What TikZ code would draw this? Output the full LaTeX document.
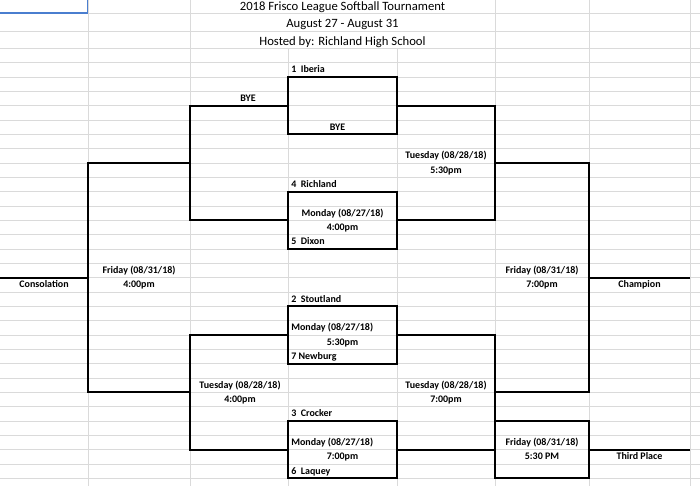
\documentclass[tikz,border=0pt]{standalone}
\usepackage{fontspec}
\setmainfont{Carlito}
\definecolor{gridc}{RGB}{218,218,218}
\definecolor{selblue}{RGB}{74,126,207}
\begin{document}
\begin{tikzpicture}[x=0.75pt,y=-0.75pt,
  gridline/.style={draw=gridc,line width=0.7pt},
  bracket/.style={draw=black,line width=1.4pt,line join=miter},
  matchbox/.style={draw=black,line width=1.4pt,inner sep=0pt,outer sep=0pt,
     minimum width=81.75pt,minimum height=43pt},
  smallbox/.style={matchbox,minimum width=70.5pt},
  lbl/.style={font=\bfseries\fontsize{7.5}{9}\selectfont,inner sep=0pt,anchor=base},
  team/.style={lbl,anchor=base west},
  ttl/.style={font=\fontsize{9.5}{11}\selectfont,inner sep=0pt,anchor=base}]
\useasboundingbox (0,0) rectangle (700,486);
\fill[white] (0,0) rectangle (700,486);
% grid
\foreach \gx in {88,190,495,589,690} \draw[gridline] (\gx,0) -- (\gx,486);
\foreach \gx in {288,397} \draw[gridline] (\gx,48.33) -- (\gx,486);
\foreach \gy in {13.33,31.67} \draw[gridline] (0,\gy) -- (700,\gy);
\foreach \k in {0,...,30} \draw[gridline] (0,48.33+14.333*\k) -- (700,48.33+14.333*\k);
% selected cell
\draw[selblue,line width=1.4pt] (0,13.33) -- (87.5,13.33) -- (87.5,0);
% titles
\node[ttl] (title1) at (342.5,10.3) {2018 Frisco League Softball Tournament};
\node[ttl] (title2) at (342.5,27.7) {August 27 - August 31};
\node[ttl] (title3) at (342.5,45) {Hosted by: Richland High School};
% match boxes
\node[matchbox] (b1) at (342.5,105.67) {};
\node[matchbox] (b2) at (342.5,220.33) {};
\node[matchbox] (b3) at (342.5,335) {};
\node[matchbox] (b4) at (342.5,449.67) {};
\node[smallbox] (b5) at (542,449.67) {};
% corner coordinates
\coordinate (l1t) at (190,105.67);
\coordinate (l1b) at (190,220.33);
\coordinate (l1m) at (190,163);
\coordinate (r1t) at (495,105.67);
\coordinate (r1b) at (495,220.33);
\coordinate (r1m) at (495,163);
\coordinate (l2t) at (190,335);
\coordinate (l2b) at (190,449.67);
\coordinate (l2m) at (190,392.33);
\coordinate (r2t) at (495,335);
\coordinate (r2m) at (495,392.33);
\coordinate (ct) at (88,163);
\coordinate (cb) at (88,392.33);
\coordinate (cm) at (88,277.67);
\coordinate (cend) at (0,277.67);
\coordinate (ft) at (589,163);
\coordinate (fb) at (589,392.33);
\coordinate (fm) at (589,277.67);
\coordinate (fend) at (690,277.67);
\coordinate (tend) at (690,449.67);
% connectors
\draw[bracket] (b1.west) -- (l1t) -- (l1b) -- (b2.west);
\draw[bracket] (b1.east) -- (r1t) -- (r1b) -- (b2.east);
\draw[bracket] (b3.west) -- (l2t) -- (l2b) -- (b4.west);
\draw[bracket] (b3.east) -- (r2t) -- (b5.north west);
\draw[bracket] (b4.east) -- (b5.west);
\draw[bracket] (l1m) -- (ct) -- (cb) -- (l2m);
\draw[bracket] (cm) -- (cend);
\draw[bracket] (r1m) -- (ft) -- (fb) -- (r2m);
\draw[bracket] (fm) -- (fend);
\draw[bracket] (b5.east) -- (tend);
% labels
\node[team] (n1) at (291,72.8) {1\ \ Iberia};
\node[lbl] (bye1) at (248,101.5) {BYE};
\node[lbl] (bye2) at (337.5,130.2) {BYE};
\node[lbl] (sf1d) at (446,158.8) {Tuesday (08/28/18)};
\node[lbl] (sf1t) at (446,173.2) {5:30pm};
\node[team] (n4) at (291,187.5) {4\ \ Richland};
\node[lbl] (m1d) at (342.5,216.2) {Monday (08/27/18)};
\node[lbl] (m1t) at (342.5,230.5) {4:00pm};
\node[team] (n5) at (291,244.8) {5\ \ Dixon};
\node[lbl] (cond) at (139,273.5) {Friday (08/31/18)};
\node[lbl] (cont) at (139,287.8) {4:00pm};
\node[lbl] (cons) at (44,287.8) {Consolation};
\node[lbl] (fd) at (542,273.5) {Friday (08/31/18)};
\node[lbl] (ftm) at (542,287.8) {7:00pm};
\node[lbl] (champ) at (639.5,287.8) {Champion};
\node[team] (n2) at (291,302.2) {2\ \ Stoutland};
\node[team] (m2d) at (291,330.8) {Monday (08/27/18)};
\node[lbl] (m2t) at (342.5,345.2) {5:30pm};
\node[team] (n7) at (291,359.5) {7 Newburg};
\node[lbl] (l2d) at (240,388.2) {Tuesday (08/28/18)};
\node[lbl] (l2tm) at (240,402.5) {4:00pm};
\node[lbl] (sf2d) at (446,388.2) {Tuesday (08/28/18)};
\node[lbl] (sf2t) at (446,402.5) {7:00pm};
\node[team] (n3) at (291,416.8) {3\ \ Crocker};
\node[team] (m3d) at (291,445.5) {Monday (08/27/18)};
\node[lbl] (m3t) at (342.5,459.8) {7:00pm};
\node[team] (n6) at (291,474.2) {6\ \ Laquey};
\node[lbl] (tpd) at (542,445.5) {Friday (08/31/18)};
\node[lbl] (tpt) at (542,459.8) {5:30 PM};
\node[lbl] (third) at (639.5,459.8) {Third Place};
\end{tikzpicture}
\end{document}
